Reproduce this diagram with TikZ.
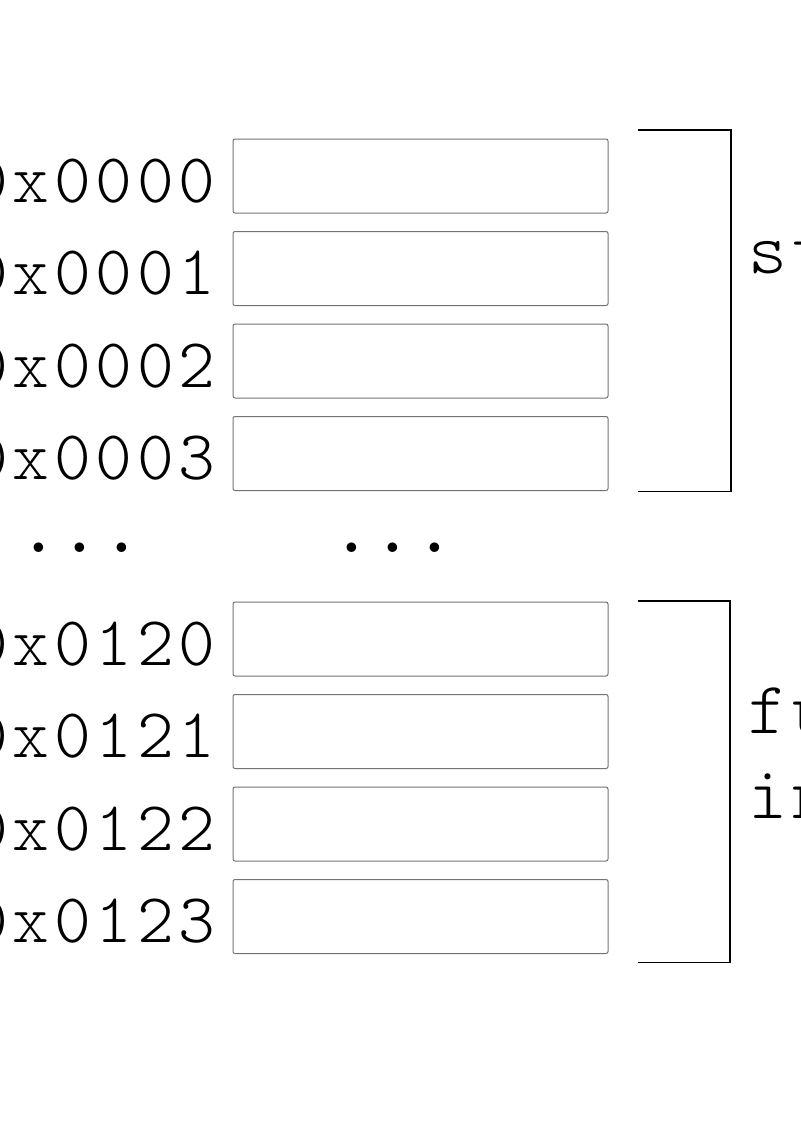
\documentclass[tikz,border=0pt]{standalone}
\usepackage{fontspec}
\newfontfamily\addrfont[LetterSpace=6.8]{Latin Modern Mono Light}
\usetikzlibrary{positioning,calc}
\begin{document}
\begin{tikzpicture}[x=0.5pt,y=-0.5pt,
    cell/.style={draw=black!55,line width=0.5pt,rounded corners=1pt,
      minimum width=187.5pt,minimum height=37pt,inner sep=0pt,outer sep=0pt},
    addr/.style={anchor=base east,inner sep=0pt,font=\addrfont\fontsize{35}{40}\selectfont},
    note/.style={anchor=base west,inner sep=0pt,font=\addrfont\fontsize{37}{44}\selectfont},
    brace/.style={line width=0.7pt}]
    \useasboundingbox (0,0) rectangle (800,1132);
    \node[cell] (a0) at (420.5,176) {};
    \foreach \i [remember=\i as \j (initially 0)] in {1,2,3}
        \node[cell,below=9.25pt of a\j] (a\i) {};
    \node[cell] (b0) at (420.5,639) {};
    \foreach \i [remember=\i as \j (initially 0)] in {1,2,3}
        \node[cell,below=9.25pt of b\j] (b\i) {};
    \foreach \i/\t in {0/0x0000,1/0x0001,2/0x0002,3/0x0003}
        \node[addr] (la\i) at ($(a\i.west)+(-17,26)$) {\t};
    \foreach \i/\t in {0/0x0120,1/0x0121,2/0x0122,3/0x0123}
        \node[addr] (lb\i) at ($(b\i.west)+(-17,26)$) {\t};
    \node[addr,anchor=center,font=\addrfont\bfseries\fontsize{35}{40}\selectfont] (dl) at (80,548) {...};
    \node[addr,anchor=center,font=\addrfont\bfseries\fontsize{35}{40}\selectfont] (dr) at (393,548) {...};
    \draw[brace] ($(a0.north east)+(30,-9)$) -| ($(a3.south east)+(123,1)$) -- ($(a3.south east)+(30,1)$);
    \draw[brace] ($(b0.north east)+(30,-1)$) -| ($(b3.south east)+(122,9)$) -- ($(b3.south east)+(30,9)$);
    \node[note] (st) at (748,273) {st};
    \node[note] (fu) at (748,733) {fu};
    \node[note] (in) at (748,818) {in};
\end{tikzpicture}
\end{document}
